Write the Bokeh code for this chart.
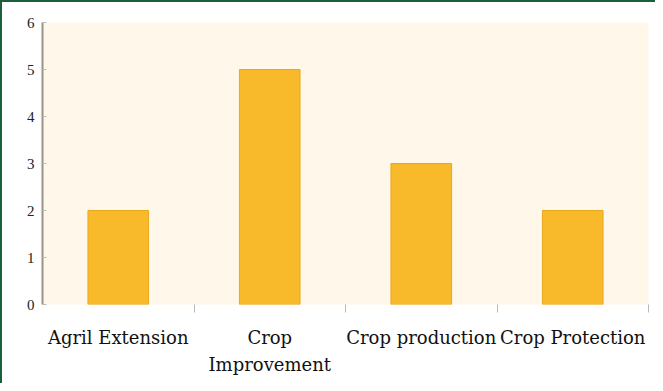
from bokeh.plotting import figure
from bokeh.models import FixedTicker, ColumnDataSource
from bokeh.embed import file_html
from bokeh.resources import INLINE

categories = ["Agril Extension", "Crop\nImprovement", "Crop production", "Crop Protection"]
values = [2, 5, 3, 2]
y_ticks = [0, 1, 2, 3, 4, 5, 6]

centers = [i + 0.5 for i in range(len(categories))]
bounds = [i for i in range(1, len(categories) + 1)]

src = ColumnDataSource(dict(x=centers, top=values))

p = figure(width=655, height=383, output_backend="svg", toolbar_location=None,
           x_range=(0, len(categories)), y_range=(0, 6),
           min_border_left=40, min_border_right=9, min_border_top=20, min_border_bottom=81)
p.styles = {"border-left": "2px solid #1d5e3c", "border-top": "2px solid #1d5e3c"}
p.background_fill_color = "#FFF7EA"
p.border_fill_color = "white"
p.outline_line_color = None
p.grid.visible = False

p.vbar(x="x", top="top", width=0.4, source=src, fill_color="#F8B92B", line_color="#E9A91E", line_width=1)

xa = p.xaxis[0]
xa.ticker = FixedTicker(ticks=centers, minor_ticks=bounds)
xa.major_label_overrides = {c: lab for c, lab in zip(centers, categories)}
xa.major_tick_line_color = None
xa.minor_tick_line_color = "#bbbbbb"
xa.minor_tick_in = 0
xa.minor_tick_out = 8
xa.axis_line_color = None
xa.major_label_standoff = 14
xa.major_label_text_font = "DejaVu Serif"
xa.major_label_text_font_size = "18px"
xa.major_label_text_color = "#111111"
xa.major_label_text_line_height = 1.3

ya = p.yaxis[0]
ya.ticker = FixedTicker(ticks=y_ticks)
ya.axis_line_color = "#9a9488"
ya.axis_line_width = 2
ya.major_tick_line_color = "#bbbbbb"
ya.major_tick_in = 4
ya.major_tick_out = 0
ya.minor_tick_line_color = None
ya.major_label_standoff = 8
ya.major_label_text_font = "Liberation Serif"
ya.major_label_text_font_size = "15px"
ya.major_label_text_color = "#222222"

open("out.html", "w").write(file_html(p, INLINE))
